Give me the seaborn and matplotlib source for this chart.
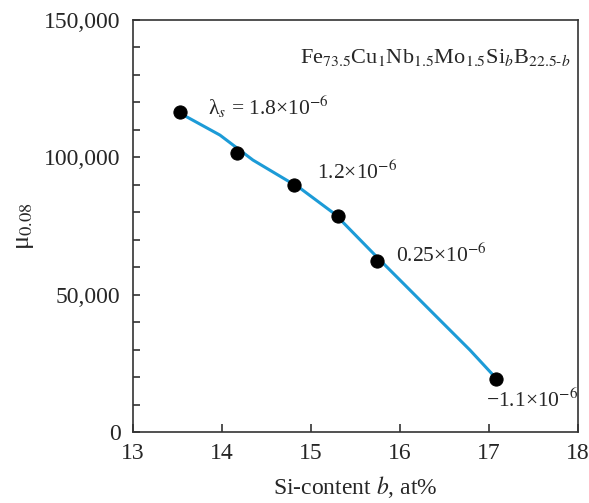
import matplotlib
matplotlib.use("Agg")
import matplotlib.pyplot as plt
from matplotlib.ticker import MultipleLocator, StrMethodFormatter
import seaborn as sns
import pandas as pd

# Measured points
si_content = [13.53, 14.165, 14.81, 15.30, 15.745, 17.08]
mu_008 = [116400, 101700, 89800, 78800, 62200, 19200]

# Fitted curve
curve_x = [13.547, 13.977, 14.348, 14.876, 15.270, 15.753, 16.034, 16.416, 16.787, 17.067]
curve_y = [115750, 108100, 99000, 88800, 79300, 63300, 54200, 41800, 29800, 20000]

labels = [r"λ$_{s}$ = 1.8×10$^{-6}$", r"1.2×10$^{-6}$", r"0.25×10$^{-6}$", r"−1.1×10$^{-6}$"]

sns.set_style("ticks")
plt.rcParams["font.family"] = ["Liberation Serif", "DejaVu Serif"]
plt.rcParams["mathtext.fontset"] = "stix"

fig = plt.figure(figsize=(5.89, 5.03), dpi=100)
ax = fig.add_axes([0.2258, 0.1412, 0.7555, 0.8190])

pts = pd.DataFrame({"x": si_content, "y": mu_008})
crv = pd.DataFrame({"x": curve_x, "y": curve_y})

sns.lineplot(data=crv, x="x", y="y", ax=ax, color="#1c9bd7", linewidth=2.2, sort=False)
sns.scatterplot(data=pts, x="x", y="y", ax=ax, color="black", s=90, edgecolor="black", zorder=5)

ax.set_xlim(13, 18)
ax.set_ylim(0, 150000)
ax.xaxis.set_major_locator(MultipleLocator(1))
ax.yaxis.set_major_locator(MultipleLocator(50000))
ax.yaxis.set_minor_locator(MultipleLocator(10000))
ax.yaxis.set_major_formatter(StrMethodFormatter("{x:,.0f}"))
ax.tick_params(axis="both", which="both", direction="in", labelsize=17, color="#333333", width=1.2)
ax.tick_params(axis="y", which="both", length=5, pad=9)
ax.tick_params(axis="x", which="major", length=6, pad=8)
for s in ax.spines.values():
    s.set_visible(True)
    s.set_color("#333333")
    s.set_linewidth(1.2)

ax.set_xlabel(r"Si-content $b$, at%", fontsize=17, labelpad=7)
ax.set_ylabel(r"μ$_{0.08}$", fontsize=19, labelpad=6)

# annotations
ax.text(13.84, 115500, labels[0], fontsize=15.5, ha="left", va="baseline")
ax.text(15.07, 92000, labels[1], fontsize=15.5, ha="left", va="baseline")
ax.text(15.96, 61900, labels[2], fontsize=15.5, ha="left", va="baseline")
ax.text(16.97, 9000, labels[3], fontsize=15.5, ha="left", va="baseline")

ax.text(17.91, 134300,
        r"Fe$_{73.5}$Cu$_1$Nb$_{1.5}$Mo$_{1.5}$Si$_b$B$_{22.5\text{-}b}$",
        fontsize=16, ha="right", va="baseline")

fig.savefig("out.png", dpi=100)
